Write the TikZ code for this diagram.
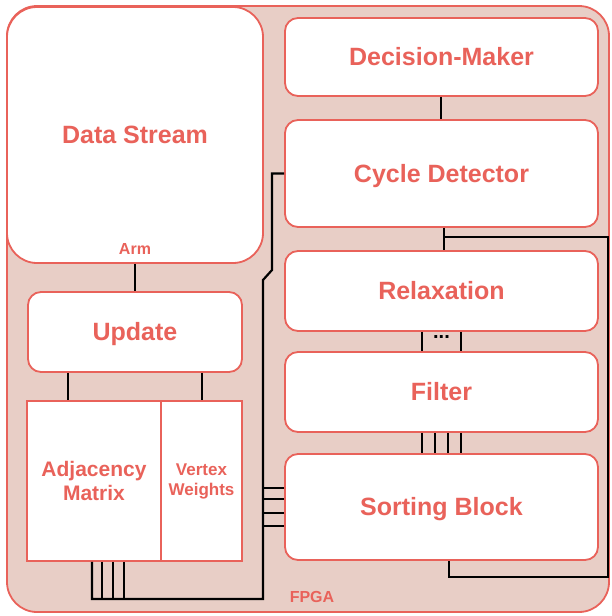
\documentclass[tikz,border=0pt]{standalone}
\usepackage{fontspec}
\setmainfont{Liberation Sans}
\usepackage{tikz}
\usetikzlibrary{calc}
\usepackage{xcolor}
\definecolor{fpgaRed}{RGB}{233,98,90}
\definecolor{fpgaFill}{RGB}{232,206,198}

\tikzset{
  block/.style={draw=fpgaRed,line width=1.8pt,fill=white,text=fpgaRed,
    font=\fontsize{25}{28}\selectfont\bfseries,inner sep=0pt,rounded corners=13pt,
    align=center,text height=17pt,text depth=0pt},
  memblock/.style={block,rounded corners=0pt,text height=,text depth=},
  wire/.style={line width=2.2pt,black},
  tag/.style={text=fpgaRed,inner sep=0pt}
}

\begin{document}
\begin{tikzpicture}[x=1pt,y=-1pt]
  \useasboundingbox (0,0) rectangle (611,616);
  % FPGA board
  \draw[fpgaRed,line width=1.8pt,fill=fpgaFill,rounded corners=30pt] (7,6) rectangle (609,612);
  \node[tag,font=\fontsize{16}{18}\selectfont\bfseries] (fpga) at (312,597) {FPGA};

  % left column
  \node[block,rounded corners=30pt,minimum width=256pt,minimum height=256pt] (ds) at (135,135) {Data Stream};
  \node[tag,font=\fontsize{16}{18}\selectfont\bfseries] (arm) at (135,249) {Arm};
  \node[block,minimum width=214pt,minimum height=80pt] (upd) at (135,332) {Update};
  \node[memblock,minimum width=134pt,minimum height=160pt,font=\fontsize{21}{24}\selectfont\bfseries]
    (adj) at (94,481) {Adjacency\\Matrix};
  \node[memblock,minimum width=81pt,minimum height=160pt,font=\fontsize{17}{20}\selectfont\bfseries]
    (vw) at (201.5,481) {Vertex\\Weights};

  % right column
  \node[block,minimum width=313pt,minimum height=78pt] (dm) at (441.5,57) {Decision-Maker};
  \node[block,minimum width=313pt,minimum height=107pt] (cd) at (441.5,173.5) {Cycle Detector};
  \node[block,minimum width=313pt,minimum height=80pt] (rel) at (441.5,291) {Relaxation};
  \node[block,minimum width=313pt,minimum height=80pt] (fil) at (441.5,392) {Filter};
  \node[block,minimum width=313pt,minimum height=106pt] (sort) at (441.5,507) {Sorting Block};

  % connections
  \draw[wire] (ds.south) -- (upd.north);
  \draw[wire] ([xshift=-67pt]upd.south) -- ([xshift=-67pt]upd.south |- adj.north);
  \draw[wire] ([xshift=0.5pt]upd.south -| vw.north) -- ([xshift=0.5pt]vw.north);
  \draw[wire] ([xshift=-0.5pt]dm.south) -- ([xshift=-0.5pt]cd.north);
  \draw[wire] ([xshift=2.5pt]cd.south) -- ([xshift=2.5pt]rel.north);
  \draw[wire] ([xshift=2.5pt]cd.south) ++(0,9) -| (608,577) -| ([xshift=7.5pt]sort.south);
  \foreach \dx in {-19.5,19.5}
    \draw[wire] ([xshift=\dx pt]rel.south) -- ([xshift=\dx pt]fil.north);
  \node[inner sep=0pt,font=\fontsize{20}{20}\selectfont\bfseries] (dots)
    at ($(rel.south)!0.5!(fil.north)+(0,-4)$) {...};
  \foreach \dx in {-19.5,-6.5,6.5,19.5}
    \draw[wire] ([xshift=\dx pt]fil.south) -- ([xshift=\dx pt]sort.north);

  % memory bus
  \foreach \dx in {-2,8,19,30}
    \draw[wire] ([xshift=\dx pt]adj.south) -- ++(0,38);
  \draw[wire] ([xshift=-2pt]adj.south) |- (263,599) -- (263,280) -- (272,270) |- (cd.west);
  \foreach \dy in {19,8,-6,-19}
    \draw[wire] ([yshift=\dy pt]sort.west) -- ++(-22,0);
\end{tikzpicture}
\end{document}
